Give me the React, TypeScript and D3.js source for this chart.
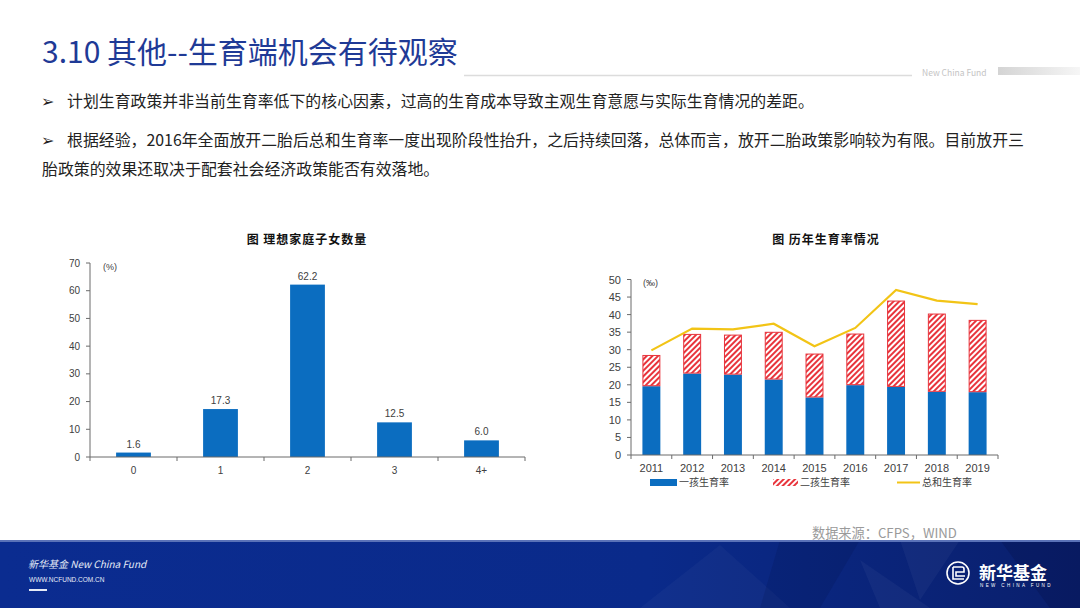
import React from 'react';
import * as d3 from 'd3';

// 图 理想家庭子女数量
const childCats = ['0', '1', '2', '3', '4+'];
const idealShare = [1.6, 17.3, 62.2, 12.5, 6.0];
const leftTicks = [0, 10, 20, 30, 40, 50, 60, 70];

// 图 历年生育率情况
const years = ['2011', '2012', '2013', '2014', '2015', '2016', '2017', '2018', '2019'];
const firstChild = [19.6, 23.2, 22.9, 21.5, 16.4, 19.9, 19.4, 18.0, 17.9];
const secondChild = [8.9, 11.3, 11.4, 13.6, 12.5, 14.7, 24.6, 22.3, 20.6];
const totalRate = [29.8, 36.0, 35.8, 37.4, 31.0, 36.2, 47.0, 44.0, 43.0];
const rightTicks = [0, 5, 10, 15, 20, 25, 30, 35, 40, 45, 50];
const legendNames = ['一孩生育率', '二孩生育率', '总和生育率'];

const BLUE = '#0b6dc0';
const RED = '#e8343c';
const YELLOW = '#f2c416';
const AXIS = '#6b6b6b';
const LABEL = '#404040';
const CJK = '"Noto Sans CJK SC", "Noto Sans", sans-serif';
const LATIN = '"Liberation Sans", Arial, sans-serif';

const LeftChart = () => {
  const x = d3.scaleBand().domain(childCats).range([90, 525]);
  const y = d3.scaleLinear().domain([0, 70]).range([457, 263]);
  const bw = x.bandwidth() * 0.4;
  return (
    <g>
      <text x={307} y={244} textAnchor="middle" fontFamily={CJK} fontWeight={700} fontSize={12} letterSpacing={1} fill="#111">
        图 理想家庭子女数量
      </text>
      {idealShare.map((v, i) => {
        const cx = x(childCats[i])! + x.bandwidth() / 2;
        return (
          <g key={i}>
            <rect x={cx - bw / 2} y={y(v)} width={bw} height={y(0) - y(v)} fill={BLUE} />
            <text x={cx} y={y(v) - 5} textAnchor="middle" fontFamily={LATIN} fontSize={10} fill={LABEL}>
              {v.toFixed(1)}
            </text>
            <text x={cx} y={474} textAnchor="middle" fontFamily={LATIN} fontSize={10} fill={LABEL}>
              {childCats[i]}
            </text>
          </g>
        );
      })}
      <line x1={90} x2={90} y1={263} y2={457} stroke={AXIS} />
      <line x1={90} x2={525} y1={457} y2={457} stroke={AXIS} />
      {leftTicks.map(t => (
        <g key={t}>
          <line x1={86} x2={90} y1={y(t)} y2={y(t)} stroke={AXIS} />
          <text x={80} y={y(t) + 3.5} textAnchor="end" fontFamily={LATIN} fontSize={10} fill={LABEL}>{t}</text>
        </g>
      ))}
      {childCats.concat(['end']).map((c, i) => {
        const px = 90 + i * x.step();
        return <line key={c} x1={px} x2={px} y1={457} y2={461} stroke={AXIS} />;
      })}
      <text x={103} y={270} fontFamily={LATIN} fontSize={9} fill={LABEL}>(%)</text>
    </g>
  );
};

const RightChart = () => {
  const x = d3.scaleBand().domain(years).range([631, 998]);
  const y = d3.scaleLinear().domain([0, 50]).range([455, 279.5]);
  const bw = x.bandwidth() * 0.44;
  const stacked = d3.stack<number>().keys(['a', 'b']).value((i, k) => (k === 'a' ? firstChild[i] : secondChild[i]))(
    d3.range(years.length)
  );
  const line = d3
    .line<number>()
    .x((_, i) => x(years[i])! + x.bandwidth() / 2)
    .y(d => y(d));
  return (
    <g>
      <defs>
        <pattern id="hatch" width={4} height={4} patternUnits="userSpaceOnUse" patternTransform="rotate(45)">
          <rect width={4} height={4} fill="#fff" />
          <rect width={2} height={4} fill={RED} />
        </pattern>
      </defs>
      <text x={826} y={244} textAnchor="middle" fontFamily={CJK} fontWeight={700} fontSize={12} letterSpacing={1} fill="#111">
        图 历年生育率情况
      </text>
      {stacked[0].map((s, i) => {
        const cx = x(years[i])! + x.bandwidth() / 2;
        const t = stacked[1][i];
        return (
          <g key={i}>
            <rect x={cx - bw / 2} y={y(s[1])} width={bw} height={y(s[0]) - y(s[1])} fill={BLUE} />
            <rect x={cx - bw / 2 + 0.5} y={y(t[1]) + 0.5} width={bw - 1} height={y(t[0]) - y(t[1]) - 1} fill="url(#hatch)" stroke={RED} strokeWidth={1} />
            <text x={cx} y={472} textAnchor="middle" fontFamily={LATIN} fontSize={11} fill={LABEL}>{years[i]}</text>
          </g>
        );
      })}
      <path d={line(totalRate) || ''} fill="none" stroke={YELLOW} strokeWidth={2.2} />
      <line x1={631} x2={631} y1={279.5} y2={455} stroke={AXIS} />
      <line x1={631} x2={998} y1={455} y2={455} stroke={AXIS} />
      {rightTicks.map(t => (
        <g key={t}>
          <line x1={627} x2={631} y1={y(t)} y2={y(t)} stroke={AXIS} />
          <text x={621} y={y(t) + 4} textAnchor="end" fontFamily={LATIN} fontSize={11} fill={LABEL}>{t}</text>
        </g>
      ))}
      {years.concat(['end']).map((c, i) => {
        const px = 631 + i * x.step();
        return <line key={c} x1={px} x2={px} y1={455} y2={459} stroke={AXIS} />;
      })}
      <text x={643} y={286} fontFamily={LATIN} fontSize={9} fill={LABEL}>(‰)</text>
      {/* legend */}
      <rect x={650} y={479} width={27} height={7} fill={BLUE} />
      <text x={679} y={486} fontFamily={CJK} fontSize={10} fill={LABEL}>{legendNames[0]}</text>
      <rect x={773} y={479} width={25} height={7} fill="url(#hatch)" />
      <text x={800} y={486} fontFamily={CJK} fontSize={10} fill={LABEL}>{legendNames[1]}</text>
      <line x1={897} x2={920} y1={482.5} y2={482.5} stroke={YELLOW} strokeWidth={2} />
      <text x={922} y={486} fontFamily={CJK} fontSize={10} fill={LABEL}>{legendNames[2]}</text>
    </g>
  );
};

const Footer = () => (
  <g>
    <defs>
      <linearGradient id="band" x1="0" x2="1" y1="0" y2="0">
        <stop offset="0" stopColor="#0b2c90" />
        <stop offset="0.6" stopColor="#0a2a8a" />
        <stop offset="1" stopColor="#0a1f6c" />
      </linearGradient>
    </defs>
    <rect x={0} y={540} width={1080} height={68} fill="url(#band)" />
    <polygon points="640,608 720,545 790,608" fill="#ffffff" opacity={0.03} />
    <polygon points="780,540 860,540 820,608 760,608" fill="#000830" opacity={0.12} />
    <polygon points="860,560 930,608 880,608" fill="#ffffff" opacity={0.04} />
    <polygon points="1000,540 1080,540 1080,608 1050,608" fill="#000830" opacity={0.18} />
    <polygon points="900,540 960,540 920,600" fill="#ffffff" opacity={0.04} />
    <rect x={0} y={540} width={1080} height={2} fill="#5a72b8" />
    <text x={28} y={568} fontFamily={CJK} fontStyle="italic" fontSize={10} fill="#e6ebf7">新华基金 New China Fund</text>
    <text x={29} y={582} fontFamily={LATIN} fontSize={6.5} fill="#e6ebf7">WWW.NCFUND.COM.CN</text>
    <rect x={29} y={589} width={18} height={2} fill="#e6ebf7" />
    <circle cx={958} cy={573} r={11} fill="none" stroke="#fff" strokeWidth={1.6} />
    <path d="M953,567 h9 a2,2 0 0 1 2,2 v3 h-8 v4 h9 M953,567 v12 h11" fill="none" stroke="#fff" strokeWidth={1.6} />
    <text x={979} y={579} fontFamily={CJK} fontWeight={700} fontSize={17} fill="#fff">新华基金</text>
    <text x={980} y={587} fontFamily={LATIN} fontSize={4.5} letterSpacing={2.4} fill="#fff">NEW CHINA FUND</text>
  </g>
);

export default function App() {
  return (
    <svg width={1080} height={608} style={{ position: 'absolute', left: 0, top: 0, background: '#fff' }}>
      <rect width={1080} height={608} fill="#fff" />
      <text x={42} y={63} fontFamily={CJK} fontSize={30} fill="#1f3a96">3.10 其他--生育端机会有待观察</text>
      <line x1={464} x2={912} y1={75.5} y2={75.5} stroke="#dcdcdc" strokeWidth={1.5} />
      <text x={922} y={76} fontFamily={CJK} fontSize={8.5} fill="#c4c4c4">New China Fund</text>
      <defs>
        <linearGradient id="topbar" x1="0" x2="1" y1="0" y2="0">
          <stop offset="0" stopColor="#d4d4d4" />
          <stop offset="1" stopColor="#f6f6f6" />
        </linearGradient>
      </defs>
      <rect x={998} y={67} width={82} height={8} fill="url(#topbar)" />

      <g fontFamily={CJK} fontSize={15.9} fill="#222">
        <text x={41} y={107} fontSize={16} fontFamily={'"DejaVu Sans", sans-serif'}>➢</text>
        <text x={67} y={107}>计划生育政策并非当前生育率低下的核心因素，过高的生育成本导致主观生育意愿与实际生育情况的差距。</text>
        <text x={41} y={146} fontSize={16} fontFamily={'"DejaVu Sans", sans-serif'}>➢</text>
        <text x={67} y={146}>根据经验，2016年全面放开二胎后总和生育率一度出现阶段性抬升，之后持续回落，总体而言，放开二胎政策影响较为有限。目前放开三</text>
        <text x={42} y={175}>胎政策的效果还取决于配套社会经济政策能否有效落地。</text>
      </g>

      <LeftChart />
      <RightChart />

      <text x={812} y={538} fontFamily={CJK} fontSize={13.2} fill="#9a9a9a">数据来源：CFPS，WIND</text>
      <Footer />
    </svg>
  );
}
